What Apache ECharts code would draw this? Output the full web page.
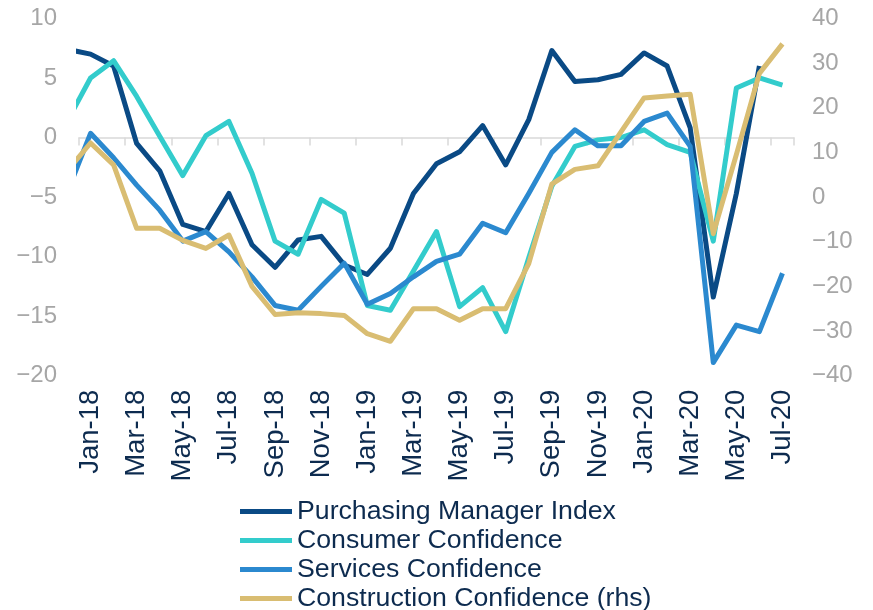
<!DOCTYPE html>
<html>
<head>
<meta charset="utf-8">
<script src="https://cdn.jsdelivr.net/npm/echarts@6/dist/echarts.min.js"></script>
<style>
html,body{margin:0;padding:0;background:#fff;}
#chart{width:873px;height:610px;}
</style>
</head>
<body>
<div id="chart"></div>
<script>
// months: first entry (Dec-17) is only partly visible at the left edge
var months = ['Dec-17','Jan-18','Feb-18','Mar-18','Apr-18','May-18','Jun-18','Jul-18','Aug-18','Sep-18','Oct-18','Nov-18','Dec-18',
  'Jan-19','Feb-19','Mar-19','Apr-19','May-19','Jun-19','Jul-19','Aug-19','Sep-19','Oct-19','Nov-19','Dec-19',
  'Jan-20','Feb-20','Mar-20','Apr-20','May-20','Jun-20','Jul-20'];
var categories = months.slice(1);

var pmi = [7.4, 7.0, 6.0, -0.5, -2.8, -7.3, -7.9, -4.7, -9.0, -10.9, -8.6, -8.3, -10.7,
  -11.5, -9.3, -4.7, -2.2, -1.2, 1.0, -2.3, 1.5, 7.3, 4.7, 4.85, 5.3,
  7.1, 6.0, 0.8, -13.4, -4.7, 6.0, null];
var consumer = [1.4, 5.0, 6.45, 3.45, 0.1, -3.2, 0.15, 1.35, -3.0, -8.7, -9.8, -5.2, -6.35,
  -14.1, -14.5, -11.2, -7.9, -14.2, -12.6, -16.3, -10.1, -4.1, -0.75, -0.2, 0.0,
  0.65, -0.6, -1.25, -8.7, 4.15, 5.0, 4.4];
var services = [-4.55, 0.35, -1.7, -4.0, -6.1, -8.7, -7.9, -9.6, -11.7, -14.1, -14.5, -12.5, -10.55,
  -14.0, -13.1, -11.7, -10.4, -9.8, -7.2, -8.0, -4.7, -1.25, 0.65, -0.7, -0.7,
  1.35, 2.05, -0.75, -18.9, -15.75, -16.3, -11.4];
var construction = [5.9, 12.1, 7.2, -7.0, -7.0, -9.7, -11.5, -8.5, -20.0, -26.3, -25.9, -26.1, -26.5,
  -30.6, -32.3, -25.0, -25.0, -27.6, -25.0, -25.0, -14.9, 2.9, 6.2, 7.0, 14.6,
  22.2, 22.6, 23.0, -8.2, 9.5, 27.7, 34.3];

var seriesNames = ['Purchasing Manager Index','Consumer Confidence','Services Confidence','Construction Confidence (rhs)'];
var seriesColors = ['#0a4a85','#33cccc','#2b89cf','#d9bd72'];

var leftTicks = {min: -20, max: 10, interval: 5};
var rightTicks = {min: -40, max: 40, interval: 10};

function toPairs(arr){
  return arr.map(function(v, i){ return [i - 1, v]; });
}
function fmtNum(v){
  return v < 0 ? '\u2212' + Math.abs(v) : String(v);
}

var FONT = 'Liberation Sans, Arial, sans-serif';
var chart = echarts.init(document.getElementById('chart'), null, {renderer:'canvas'});

var allData = [pmi, consumer, services, construction];
var yIdx = [0, 0, 0, 1];

chart.setOption({
  animation: false,
  backgroundColor: '#ffffff',
  grid: {left: 79, top: 18.4, width: 715, height: 357.3, containLabel: false},
  legend: {
    orient: 'vertical',
    left: 240,
    top: 497,
    height: 120,
    padding: 0,
    itemWidth: 52,
    itemHeight: 5,
    itemGap: 0,
    icon: 'rect',
    data: seriesNames,
    textStyle: {fontFamily: FONT, fontSize: 26.7, color: '#0d2b4f', lineHeight: 29}
  },
  xAxis: [
    {
      type: 'category', data: categories, boundaryGap: true, position: 'bottom',
      axisLine: {show: true, onZero: true, onZeroAxisIndex: 0, lineStyle: {color: '#d9d9d9', width: 1.5}},
      axisTick: {show: true, interval: 1, length: 8, lineStyle: {color: '#d9d9d9', width: 1.5}},
      axisLabel: {show: false},
      splitLine: {show: false}
    },
    {
      type: 'category', data: categories, boundaryGap: true, position: 'bottom',
      axisLine: {show: false, onZero: false},
      axisTick: {show: false},
      axisLabel: {show: true, interval: 1, rotate: 90, margin: 14, color: '#0d2b4f', fontFamily: FONT, fontSize: 27.5},
      splitLine: {show: false}
    },
    {
      type: 'value', min: -0.5, max: 30.5, show: false,
      axisLine: {onZero: false}, splitLine: {show: false}
    }
  ],
  yAxis: [
    {
      type: 'value', position: 'left', min: leftTicks.min, max: leftTicks.max, interval: leftTicks.interval,
      axisLine: {show: false, onZero: false}, axisTick: {show: false}, splitLine: {show: false},
      axisLabel: {color: '#a6a6a6', fontFamily: FONT, fontSize: 24, margin: 22, formatter: fmtNum}
    },
    {
      type: 'value', position: 'right', min: rightTicks.min, max: rightTicks.max, interval: rightTicks.interval,
      axisLine: {show: false, onZero: false}, axisTick: {show: false}, splitLine: {show: false},
      axisLabel: {color: '#a6a6a6', fontFamily: FONT, fontSize: 24, margin: 18, formatter: fmtNum}
    }
  ],
  series: allData.map(function(arr, k){
    return {
      name: seriesNames[k],
      type: 'line',
      xAxisIndex: 2,
      yAxisIndex: yIdx[k],
      data: toPairs(arr),
      showSymbol: false,
      symbol: 'none',
      clip: true,
      connectNulls: false,
      color: seriesColors[k],
      lineStyle: {width: 5, color: seriesColors[k], join: 'round'}
    };
  })
});
</script>
</body>
</html>
